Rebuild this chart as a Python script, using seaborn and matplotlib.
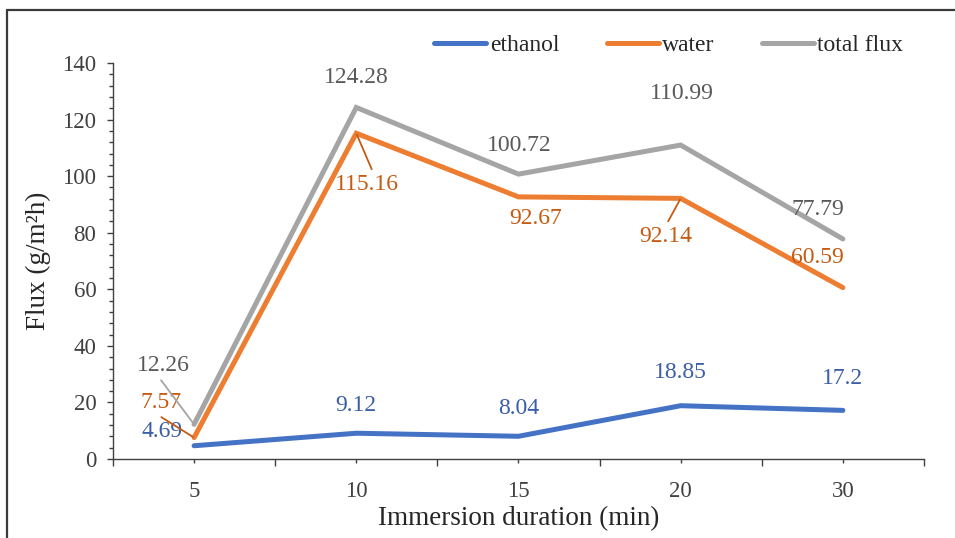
import numpy as np
import pandas as pd
import matplotlib
matplotlib.use("Agg")
import matplotlib.pyplot as plt
from matplotlib.lines import Line2D
from matplotlib.ticker import MultipleLocator, FixedLocator
import seaborn as sns

durations = ["5", "10", "15", "20", "30"]
ethanol = [4.69, 9.12, 8.04, 18.85, 17.2]
water = [7.57, 115.16, 92.67, 92.14, 60.59]
total_flux = [12.26, 124.28, 100.72, 110.99, 77.79]
series_names = ["ethanol", "water", "total flux"]

line_colors = {"ethanol": "#4472C4", "water": "#ED7D31", "total flux": "#A5A5A5"}
label_colors = {"ethanol": "#3B5EA6", "water": "#C55A11", "total flux": "#595959"}
leader_colors = {"ethanol": "#A5A5A5", "water": "#C55A11", "total flux": "#A5A5A5"}

df = pd.DataFrame({
    "pos": list(range(len(durations))) * 3,
    "flux": ethanol + water + total_flux,
    "series": [s for s in series_names for _ in durations],
})

sns.set_theme(style="white")
plt.rcParams["font.family"] = ["Liberation Serif", "DejaVu Serif"]

fig = plt.figure(figsize=(9.55, 5.38), dpi=100)
ax = fig.add_axes([0.1183, 0.1468, 0.9675 - 0.1183, 0.8829 - 0.1468])

sns.lineplot(data=df, x="pos", y="flux", hue="series", palette=line_colors,
             linewidth=3.6, ax=ax, legend=False, sort=False)
for ln in ax.get_lines():
    ln.set_solid_capstyle("round")
    ln.set_solid_joinstyle("miter")

ax.set_xlim(-0.5, len(durations) - 0.5)
ax.set_ylim(0, 140)

# axes styling
for side in ["top", "right"]:
    ax.spines[side].set_visible(False)
for side in ["left", "bottom"]:
    ax.spines[side].set_color("#404040")
    ax.spines[side].set_linewidth(1.0)

ax.yaxis.set_major_locator(MultipleLocator(20))
ax.yaxis.set_minor_locator(MultipleLocator(4))
ax.set_xticks(range(len(durations)))
ax.set_xticklabels(durations)
ax.xaxis.set_minor_locator(FixedLocator(np.arange(-0.5, len(durations), 1.0)))
ax.tick_params(axis="y", which="major", direction="out", length=4, width=1,
               color="#404040", labelsize=16.5, pad=8, left=True)
ax.tick_params(axis="y", which="minor", direction="out", length=3, width=1,
               color="#404040", left=True)
ax.tick_params(axis="x", which="major", direction="out", length=3, width=1,
               color="#404040", labelsize=16.5, pad=13, bottom=True)
ax.tick_params(axis="x", which="minor", direction="out", length=5, width=1,
               color="#404040", bottom=True)
for t in ax.get_xticklabels() + ax.get_yticklabels():
    t.set_color("#404040")

ax.set_xlabel("Immersion duration (min)", fontsize=19.5, color="#262626", labelpad=3)
ax.set_ylabel("Flux (g/m²h)", fontsize=19.5, color="#262626", labelpad=8)

# value labels: offsets in pixels (dx, dy) from the data point, and where a
# leader line leaves the label box (None = no leader)
offsets = {
    "total flux": [(-31, 59, (0.4, 0.0)), (0, 30, None), (1, 29, None), (1, 52, None), (-25, 29, None)],
    "water": [(-33, 35, (0.35, 0.0)), (11, -51, (0.6, 1.0)), (17, -22, None), (-15, -38, (0.5, 1.0)), (-25, 30, None)],
    "ethanol": [(-32, 14, None), (0, 28, None), (0, 28, None), (0, 33, None), (0, 32, None)],
}
values = {"ethanol": ethanol, "water": water, "total flux": total_flux}
px2pt = 72.0 / fig.dpi
for name in series_names:
    for i, v in enumerate(values[name]):
        dx, dy, leader = offsets[name][i]
        kw = {}
        if leader is not None:
            kw["arrowprops"] = dict(arrowstyle="-", color=leader_colors[name], lw=1.3,
                                    shrinkA=1, shrinkB=1, relpos=leader)
        ax.annotate(f"{v:g}", xy=(i, v), xytext=(dx * px2pt, dy * px2pt),
                    textcoords="offset points", ha="center", va="center",
                    fontsize=17, color=label_colors[name], **kw)

# legend across the top
handles = [Line2D([0], [0], color=line_colors[n], lw=3.6, solid_capstyle="round") for n in series_names]
fig.legend(handles, series_names, loc="center right", bbox_to_anchor=(0.968, 0.915),
           ncol=3, frameon=False, fontsize=17, handlelength=2.2, handletextpad=0.15,
           columnspacing=2.0, labelcolor="#262626")

# frame lines along the left and top of the figure
fig.add_artist(Line2D([0.0073, 0.0073], [0.0, 0.9814], transform=fig.transFigure,
                      color="#3a3a3a", lw=1.6))
fig.add_artist(Line2D([0.0073, 1.0], [0.9814, 0.9814], transform=fig.transFigure,
                      color="#3a3a3a", lw=1.6))

fig.savefig("out.png", dpi=100)
